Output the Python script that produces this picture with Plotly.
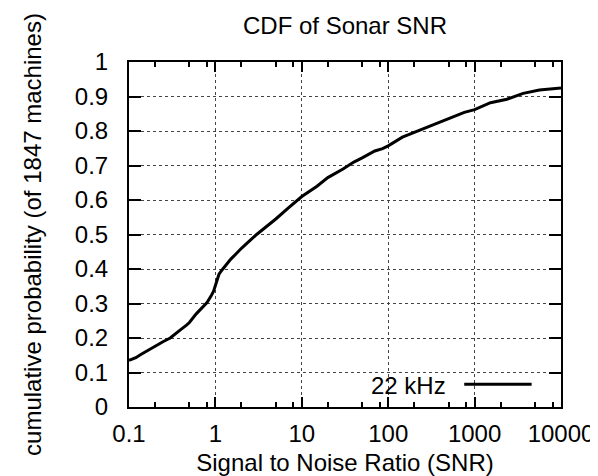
import plotly.graph_objects as go

# Data
snr = [0.1, 0.12, 0.137, 0.15, 0.2, 0.25, 0.3, 0.33, 0.4, 0.467, 0.5, 0.6, 0.7,
       0.8, 0.9, 0.95, 1.0, 1.05, 1.1, 1.2, 1.35, 1.5, 1.75, 2, 3, 4, 5, 7, 10,
       15, 20, 30, 40, 50, 70, 86, 100, 146, 206, 318, 492, 760, 1000, 1528,
       2363, 3650, 5628, 10000]
cdf = [0.135, 0.143, 0.152, 0.158, 0.176, 0.19, 0.2, 0.209, 0.225, 0.238, 0.245,
       0.27, 0.288, 0.303, 0.324, 0.335, 0.352, 0.372, 0.385, 0.398, 0.415,
       0.428, 0.445, 0.46, 0.5, 0.525, 0.545, 0.577, 0.61, 0.64, 0.665, 0.69,
       0.71, 0.722, 0.742, 0.749, 0.757, 0.782, 0.797, 0.816, 0.835, 0.854,
       0.862, 0.882, 0.892, 0.909, 0.919, 0.925]

x_ticks = [0.1, 1, 10, 100, 1000, 10000]
x_tick_labels = ["0.1", "1", "10", "100", "1000", "10000"]
x_minor = [m * d for d in [0.1, 1, 10, 100, 1000] for m in (2, 5, 8)]
y_ticks = [0, 0.1, 0.2, 0.3, 0.4, 0.5, 0.6, 0.7, 0.8, 0.9, 1]
y_tick_labels = ["0", "0.1", "0.2", "0.3", "0.4", "0.5", "0.6", "0.7", "0.8", "0.9", "1"]
series_name = "22 kHz"

FONT = "Liberation Sans, Arial, sans-serif"
FS = 24

fig = go.Figure()
fig.add_trace(go.Scatter(x=snr, y=cdf, mode="lines", name=series_name,
                         line=dict(color="black", width=3), showlegend=False))

fig.update_layout(
    width=598, height=476,
    margin=dict(l=121, r=36, t=54, b=73),
    paper_bgcolor="white", plot_bgcolor="white",
    font=dict(family=FONT, size=FS, color="black"),
    title=dict(text="CDF of Sonar SNR", x=0.5, xref="paper", xanchor="center",
               y=1 - 18 / 476, yref="container", yanchor="middle",
               font=dict(family=FONT, size=FS, color="black")),
)

fig.update_xaxes(
    type="log", range=[-1, 4],
    tickmode="array", tickvals=x_ticks, ticktext=x_tick_labels,
    ticks="inside", ticklen=10, tickwidth=1.5, tickcolor="black",
    showline=True, linewidth=2, linecolor="black", mirror="ticks",
    showgrid=True, gridcolor="#444", griddash="dot", gridwidth=1,
    minor=dict(tickmode="array", tickvals=x_minor, ticks="inside", ticklen=5,
               tickwidth=1.5, tickcolor="black", showgrid=False),
    ticklabelstandoff=4,
    title=dict(text="Signal to Noise Ratio (SNR)", standoff=8,
               font=dict(family=FONT, size=FS)),
    zeroline=False,
)
fig.update_yaxes(
    range=[0, 1],
    tickmode="array", tickvals=y_ticks, ticktext=y_tick_labels,
    ticks="inside", ticklen=12, tickwidth=1.5, tickcolor="black",
    showline=True, linewidth=2, linecolor="black", mirror="ticks",
    showgrid=True, gridcolor="#444", griddash="dot", gridwidth=1,
    ticklabelstandoff=14,
    title=dict(text="cumulative probability (of 1847 machines)", standoff=26,
               font=dict(family=FONT, size=FS)),
    zeroline=False,
)

# Legend key (text left of the line sample, gnuplot style)
fig.add_shape(type="rect", xref="paper", yref="y", x0=0.542, x1=0.966, y0=0.0, y1=0.105,
              fillcolor="white", line=dict(width=0), layer="between")
fig.add_shape(type="line", xref="paper", yref="y", x0=0.776, x1=0.932, y0=0.066, y1=0.066,
              line=dict(color="black", width=3))
fig.add_annotation(text=series_name, xref="paper", yref="y", x=0.739, y=0.063,
                   xanchor="right", yanchor="middle", showarrow=False,
                   font=dict(family=FONT, size=FS, color="black"))

fig.write_html("out.html")
